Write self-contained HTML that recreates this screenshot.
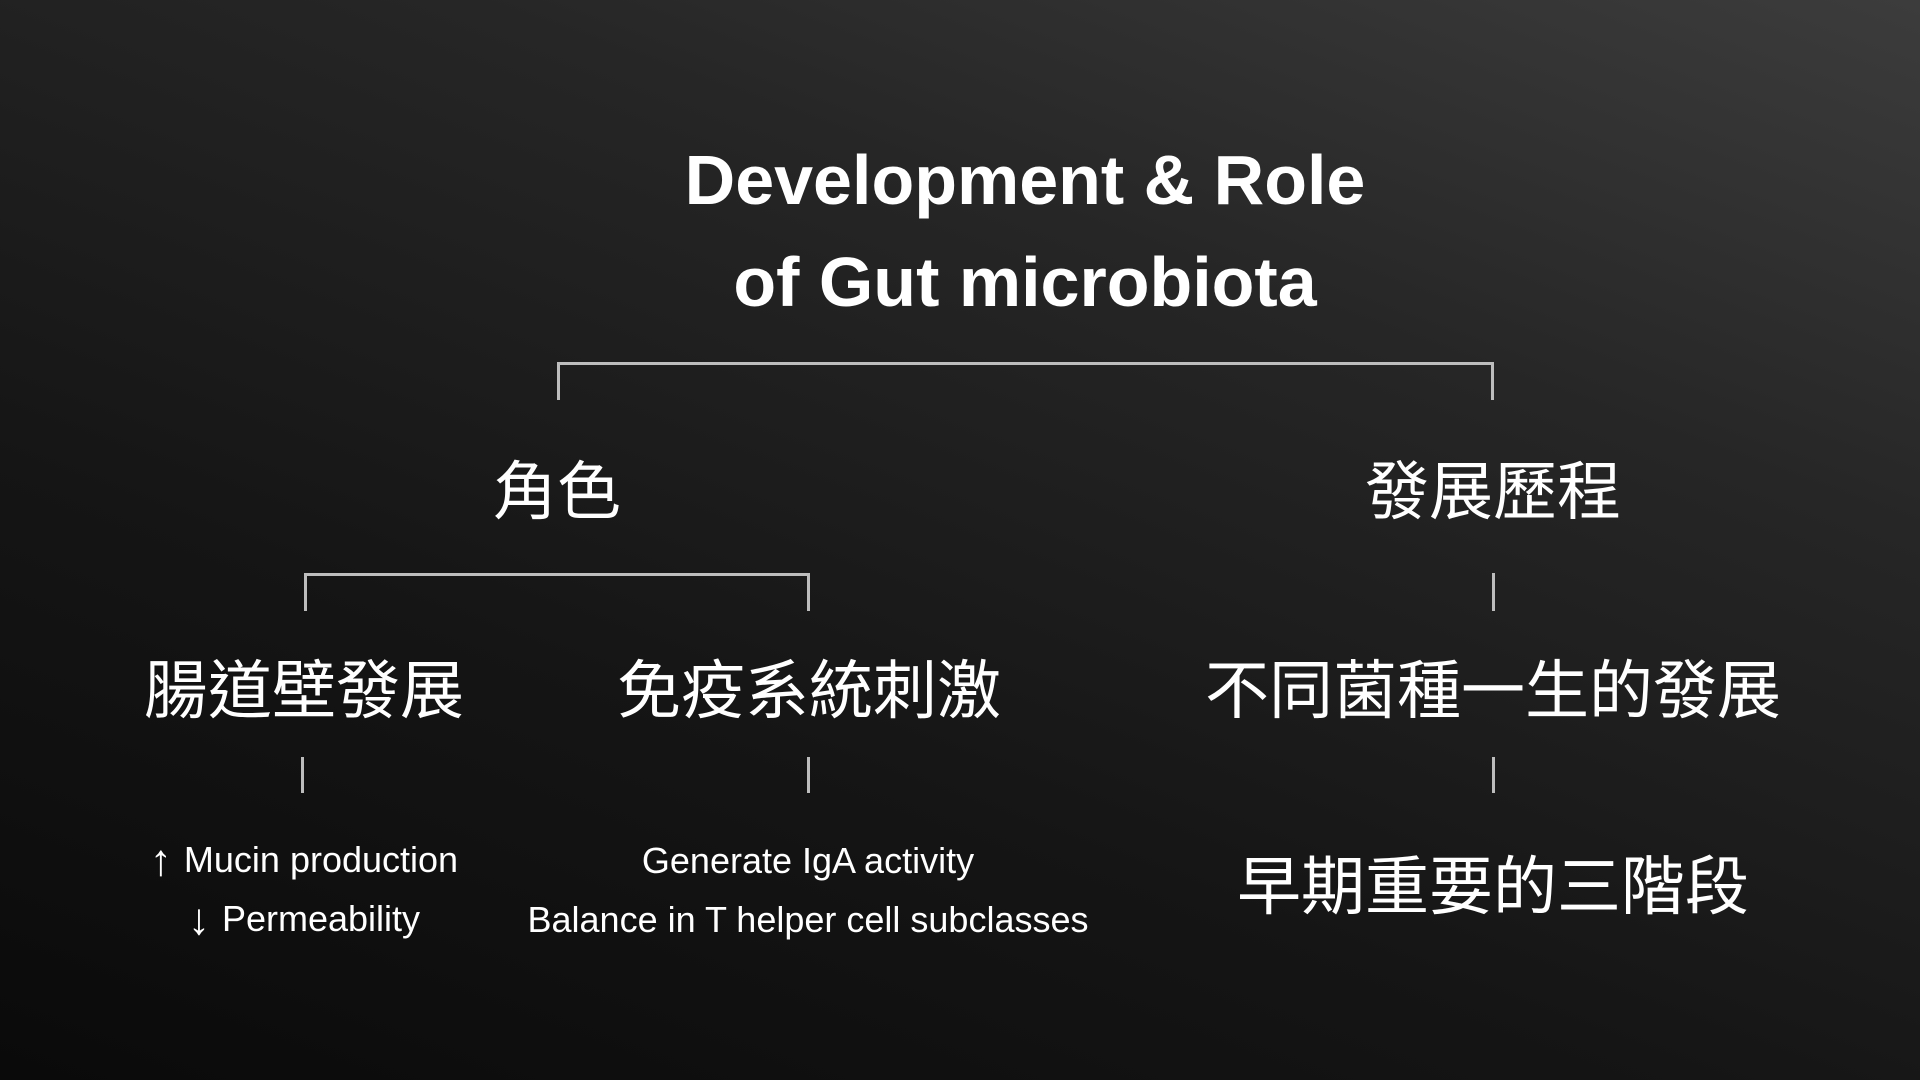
<!DOCTYPE html>
<html><head><meta charset="utf-8"><style>
html,body{margin:0;padding:0}
body{width:1920px;height:1080px;overflow:hidden;position:relative;
background:linear-gradient(200deg,#3c3c3c 0%,#262626 30%,#151515 65%,#0a0a0a 100%);
font-family:"Liberation Sans","Noto Sans CJK TC",sans-serif;color:#fff}
.t{position:absolute;transform:translate(-50%,-50%);white-space:nowrap;line-height:1}
.ln{position:absolute;background:#bdbdbd}
.cjk{font-size:64px;font-family:"Noto Sans CJK TC","Liberation Sans",sans-serif;font-weight:400}
.sm{font-size:36px}
.ar{font-size:44px;margin-right:12px;vertical-align:-3px}
</style></head><body>
<div class="t" style="left:1025px;top:180px;font-size:70px;font-weight:bold">Development &amp; Role</div>
<div class="t" style="left:1025px;top:282px;font-size:70px;font-weight:bold">of Gut microbiota</div>

<div class="ln" style="left:557px;top:362px;width:937px;height:3px"></div>
<div class="ln" style="left:557px;top:362px;width:3px;height:38px"></div>
<div class="ln" style="left:1491px;top:362px;width:3px;height:38px"></div>

<div class="t cjk" style="left:557px;top:487px">角色</div>
<div class="t cjk" style="left:1493px;top:487px">發展歷程</div>

<div class="ln" style="left:304px;top:573px;width:506px;height:3px"></div>
<div class="ln" style="left:304px;top:573px;width:3px;height:38px"></div>
<div class="ln" style="left:807px;top:573px;width:3px;height:38px"></div>
<div class="ln" style="left:1492px;top:573px;width:3px;height:38px"></div>

<div class="t cjk" style="left:304px;top:686px">腸道壁發展</div>
<div class="t cjk" style="left:809px;top:686px">免疫系統刺激</div>
<div class="t cjk" style="left:1493px;top:686px">不同菌種一生的發展</div>

<div class="ln" style="left:301px;top:757px;width:3px;height:36px"></div>
<div class="ln" style="left:807px;top:757px;width:3px;height:36px"></div>
<div class="ln" style="left:1492px;top:757px;width:3px;height:36px"></div>

<div class="t sm" style="left:304px;top:861px"><span class="ar">↑</span>Mucin production</div>
<div class="t sm" style="left:304px;top:920px"><span class="ar">↓</span>Permeability</div>
<div class="t sm" style="left:808px;top:861px">Generate IgA activity</div>
<div class="t sm" style="left:808px;top:920px">Balance in T helper cell subclasses</div>
<div class="t cjk" style="left:1493px;top:882px">早期重要的三階段</div>
</body></html>
